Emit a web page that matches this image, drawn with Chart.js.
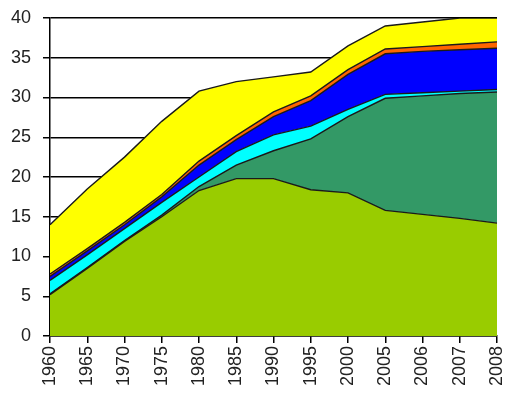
<!DOCTYPE html>
<html>
<head>
<meta charset="utf-8">
<script src="https://cdn.jsdelivr.net/npm/chart.js@4/dist/chart.umd.min.js"></script>
<style>
  html, body { margin: 0; padding: 0; background: #fff; }
  #wrap { width: 505px; height: 402px; }
</style>
</head>
<body>
<div id="wrap"><canvas id="c" width="505" height="402"></canvas></div>
<script>
const categories = ['1960','1965','1970','1975','1980','1985','1990','1995','2000','2005','2006','2007','2008'];
const lightGreen = [5.2, 8.5, 11.9, 15.0, 18.3, 19.8, 19.8, 18.4, 18.0, 15.8, 15.3, 14.8, 14.2];
const darkGreen  = [0.1, 0.1, 0.1, 0.2, 0.5, 1.7, 3.5, 6.4, 9.6, 14.1, 14.9, 15.7, 16.5];
const cyan       = [1.7, 1.6, 1.5, 1.6, 1.2, 1.7, 2.0, 1.6, 0.9, 0.5, 0.4, 0.3, 0.3];
const blue       = [0.5, 0.5, 0.5, 0.7, 1.5, 1.5, 2.3, 3.2, 4.4, 5.1, 5.2, 5.2, 5.2];
const orange     = [0.3, 0.3, 0.3, 0.3, 0.5, 0.5, 0.6, 0.6, 0.6, 0.6, 0.6, 0.7, 0.8];
const yellow     = [6.2, 7.5, 8.2, 9.2, 8.8, 6.8, 4.4, 3.0, 3.0, 2.9, 3.1, 3.3, 3.0];
const yTicks = [0, 5, 10, 15, 20, 25, 30, 35, 40];

const series = [
  { data: lightGreen, color: '#99cc00', fill: 'origin' },
  { data: darkGreen,  color: '#339966', fill: '-1' },
  { data: cyan,       color: '#00ffff', fill: '-1' },
  { data: blue,       color: '#0000ff', fill: '-1' },
  { data: orange,     color: '#ff6600', fill: '-1' },
  { data: yellow,     color: '#ffff00', fill: '-1' }
];

new Chart(document.getElementById('c'), {
  type: 'line',
  data: {
    labels: categories,
    datasets: series.map(s => ({
      data: s.data,
      backgroundColor: s.color,
      borderColor: '#1a1a1a',
      borderWidth: 1.4,
      fill: s.fill,
      pointRadius: 0,
      tension: 0
    }))
  },
  options: {
    responsive: false,
    animation: false,
    layout: { padding: { top: 18, right: 8, left: 0, bottom: 0 } },
    plugins: { legend: { display: false }, tooltip: { enabled: false } },
    scales: {
      x: {
        offset: false,
        grid: { display: true, drawOnChartArea: false, drawTicks: true, tickLength: 7, color: '#000', lineWidth: 1.5 },
        border: { display: true, color: '#000', width: 1.5 },
        ticks: { minRotation: 90, maxRotation: 90, autoSkip: false, padding: 3, color: '#222',
                 font: { family: 'Liberation Sans, Arial, sans-serif', size: 18 } },
        afterFit: a => { a.height = 66; a.paddingLeft = 0; a.paddingRight = 0; }
      },
      y: {
        stacked: true,
        min: 0, max: 40,
        afterBuildTicks: a => { a.ticks = yTicks.map(v => ({ value: v })); },
        grid: { color: '#000', lineWidth: 1.5, tickLength: 7 },
        border: { display: true, color: '#000', width: 1.5 },
        ticks: { padding: 12, color: '#222',
                 font: { family: 'Liberation Sans, Arial, sans-serif', size: 18 } },
        afterFit: a => { a.width = 50; a.paddingTop = 0; a.paddingBottom = 0; }
      }
    }
  }
});
</script>
</body>
</html>
